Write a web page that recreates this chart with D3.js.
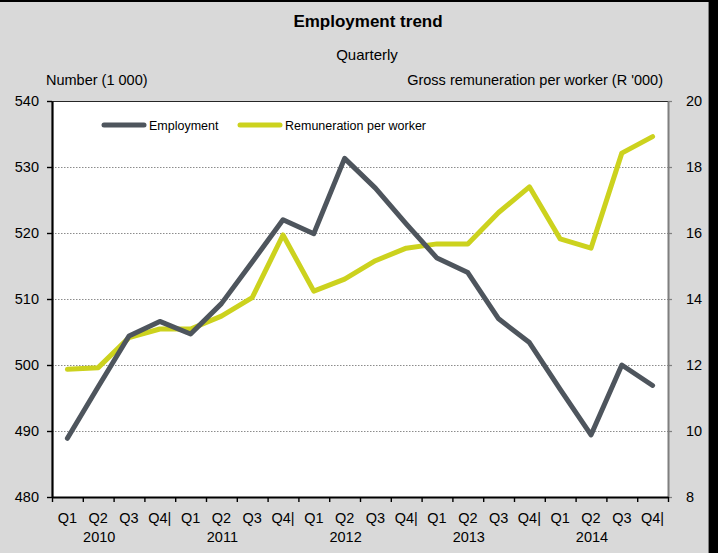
<!DOCTYPE html>
<html>
<head>
<meta charset="utf-8">
<script src="https://cdn.jsdelivr.net/npm/d3@7"></script>
<style>
  html, body { margin: 0; padding: 0; background: #000; }
  svg { display: block; }
  text { font-family: "Liberation Sans Narrow", "Arial Narrow", "Liberation Sans", sans-serif; fill: #000; }
</style>
</head>
<body>
<svg id="chart" width="718" height="553"></svg>
<script>
// Quarterly categories, 2010 Q1 .. 2014 Q4
const quarters = ["Q1","Q2","Q3","Q4|","Q1","Q2","Q3","Q4|","Q1","Q2","Q3","Q4|",
                  "Q1","Q2","Q3","Q4|","Q1","Q2","Q3","Q4|"];
const years = ["2010","2011","2012","2013","2014"];

// Employment, number (1 000) — left axis
const employment = [488.9, 496.7, 504.4, 506.6, 504.7, 509.3, 515.6, 522.0, 519.9, 531.3,
                    526.8, 521.4, 516.2, 514.0, 507.0, 503.4, 496.3, 489.4, 500.0, 496.9];
// Gross remuneration per worker (R '000) — right axis
const remuneration = [11.87, 11.92, 12.83, 13.09, 13.09, 13.48, 14.04, 15.94, 14.24, 14.60,
                      15.16, 15.54, 15.67, 15.67, 16.62, 17.40, 15.82, 15.54, 18.42, 18.92];

const leftTicks = [480, 490, 500, 510, 520, 530, 540];
const rightTicks = [8, 10, 12, 14, 16, 18, 20];

const seriesNames = ["Employment", "Remuneration per worker"];
const seriesColors = ["#4e555d", "#ccd21e"];

const svg = d3.select("#chart");
const W = 718, H = 553;
const plot = { left: 52, right: 668, top: 101, bottom: 497 };

// Frame: grey panel with black edge on top and right
svg.append("rect").attr("x", 0).attr("y", 0).attr("width", W).attr("height", H).attr("fill", "#000");
svg.append("rect").attr("x", 0).attr("y", 2).attr("width", 709).attr("height", H - 2).attr("fill", "#d9d9d9");
svg.append("line").attr("x1", 708.5).attr("x2", 708.5).attr("y1", 2).attr("y2", H)
  .attr("stroke", "#7f7f7f").attr("stroke-width", 1);

// Scales
const x = d3.scaleBand().domain(d3.range(quarters.length)).range([plot.left, plot.right]);
const xEdge = d3.scaleLinear().domain([0, quarters.length]).range([plot.left, plot.right]);
const yL = d3.scaleLinear().domain([480, 540]).range([plot.bottom, plot.top]);
const yR = d3.scaleLinear().domain([8, 20]).range([plot.bottom, plot.top]);
const cx = i => x(i) + x.bandwidth() / 2;

// Plot area
svg.append("rect").attr("x", plot.left).attr("y", plot.top)
  .attr("width", plot.right - plot.left).attr("height", plot.bottom - plot.top).attr("fill", "#fff");

// Dotted gridlines
svg.append("g").selectAll("line").data(leftTicks.filter(v => v > 480 && v < 540)).join("line")
  .attr("x1", plot.left).attr("x2", plot.right)
  .attr("y1", d => Math.round(yL(d)) + 0.5).attr("y2", d => Math.round(yL(d)) + 0.5)
  .attr("stroke", "#8c8c8c").attr("stroke-width", 1).attr("stroke-dasharray", "1.5,1.5");

// Top border of plot
svg.append("line").attr("x1", plot.left).attr("x2", plot.right + 4)
  .attr("y1", plot.top + 0.5).attr("y2", plot.top + 0.5).attr("stroke", "#262626").attr("stroke-width", 1.2);

// Right axis (grey)
const gR = svg.append("g").attr("transform", `translate(${plot.right},0)`)
  .call(d3.axisRight(yR).tickValues(rightTicks).tickSize(4).tickSizeOuter(0).tickPadding(14));
gR.select(".domain").attr("stroke", "#7f7f7f").attr("stroke-width", 2);
gR.selectAll(".tick line").attr("stroke", "#7f7f7f").attr("stroke-width", 1.2);
gR.selectAll("text").style("font-size", "14.5px").attr("fill", "#000");

// Left axis (black)
const gL = svg.append("g").attr("transform", `translate(${plot.left},0)`)
  .call(d3.axisLeft(yL).tickValues(leftTicks).tickSize(5).tickSizeOuter(0).tickPadding(8));
gL.select(".domain").attr("stroke", "#000").attr("stroke-width", 2.2);
gL.selectAll(".tick line").attr("stroke", "#000").attr("stroke-width", 1.4);
gL.selectAll("text").style("font-size", "14.5px").attr("fill", "#000");

// Bottom axis with ticks at quarter boundaries
const gB = svg.append("g").attr("transform", `translate(0,${plot.bottom})`)
  .call(d3.axisBottom(xEdge).tickValues(d3.range(quarters.length + 1)).tickSize(5).tickSizeOuter(0).tickFormat(""));
gB.select(".domain").attr("stroke", "#000").attr("stroke-width", 2);
gB.selectAll(".tick line").attr("stroke", "#000").attr("stroke-width", 1.4);

// Category labels
svg.append("g").selectAll("text").data(quarters).join("text")
  .attr("x", (d, i) => cx(i)).attr("y", 523).attr("text-anchor", "middle")
  .style("font-size", "14.5px").text(d => d);
svg.append("g").selectAll("text").data(years).join("text")
  .attr("x", (d, i) => cx(i * 4 + 1) + 1).attr("y", 542).attr("text-anchor", "middle")
  .style("font-size", "14.5px").text(d => d);

// Lines
const lineL = d3.line().x((d, i) => cx(i)).y(d => yL(d));
const lineR = d3.line().x((d, i) => cx(i)).y(d => yR(d));
svg.append("path").datum(remuneration).attr("d", lineR).attr("fill", "none")
  .attr("stroke", seriesColors[1]).attr("stroke-width", 5).attr("stroke-linejoin", "round").attr("stroke-linecap", "round");
svg.append("path").datum(employment).attr("d", lineL).attr("fill", "none")
  .attr("stroke", seriesColors[0]).attr("stroke-width", 5).attr("stroke-linejoin", "round").attr("stroke-linecap", "round");

// Legend
const legendX = [104, 240];
const legend = svg.append("g").selectAll("g").data(seriesNames).join("g")
  .attr("transform", (d, i) => `translate(${legendX[i]},125)`);
legend.append("line").attr("x1", 0).attr("x2", 40).attr("y1", 0).attr("y2", 0)
  .attr("stroke", (d, i) => seriesColors[i]).attr("stroke-width", 5).attr("stroke-linecap", "round");
legend.append("text").attr("x", 45).attr("y", 4.5).style("font-size", "12.5px").text(d => d);

// Titles
svg.append("text").attr("x", 368).attr("y", 27).attr("text-anchor", "middle")
  .style("font-size", "17px").style("font-weight", "bold").text("Employment trend");
svg.append("text").attr("x", 367).attr("y", 60).attr("text-anchor", "middle")
  .style("font-size", "15px").text("Quarterly");
svg.append("text").attr("x", 46).attr("y", 85).style("font-size", "14.5px").text("Number (1 000)");
svg.append("text").attr("x", 663).attr("y", 85).attr("text-anchor", "end")
  .style("font-size", "14.5px").text("Gross remuneration per worker (R '000)");
</script>
</body>
</html>
